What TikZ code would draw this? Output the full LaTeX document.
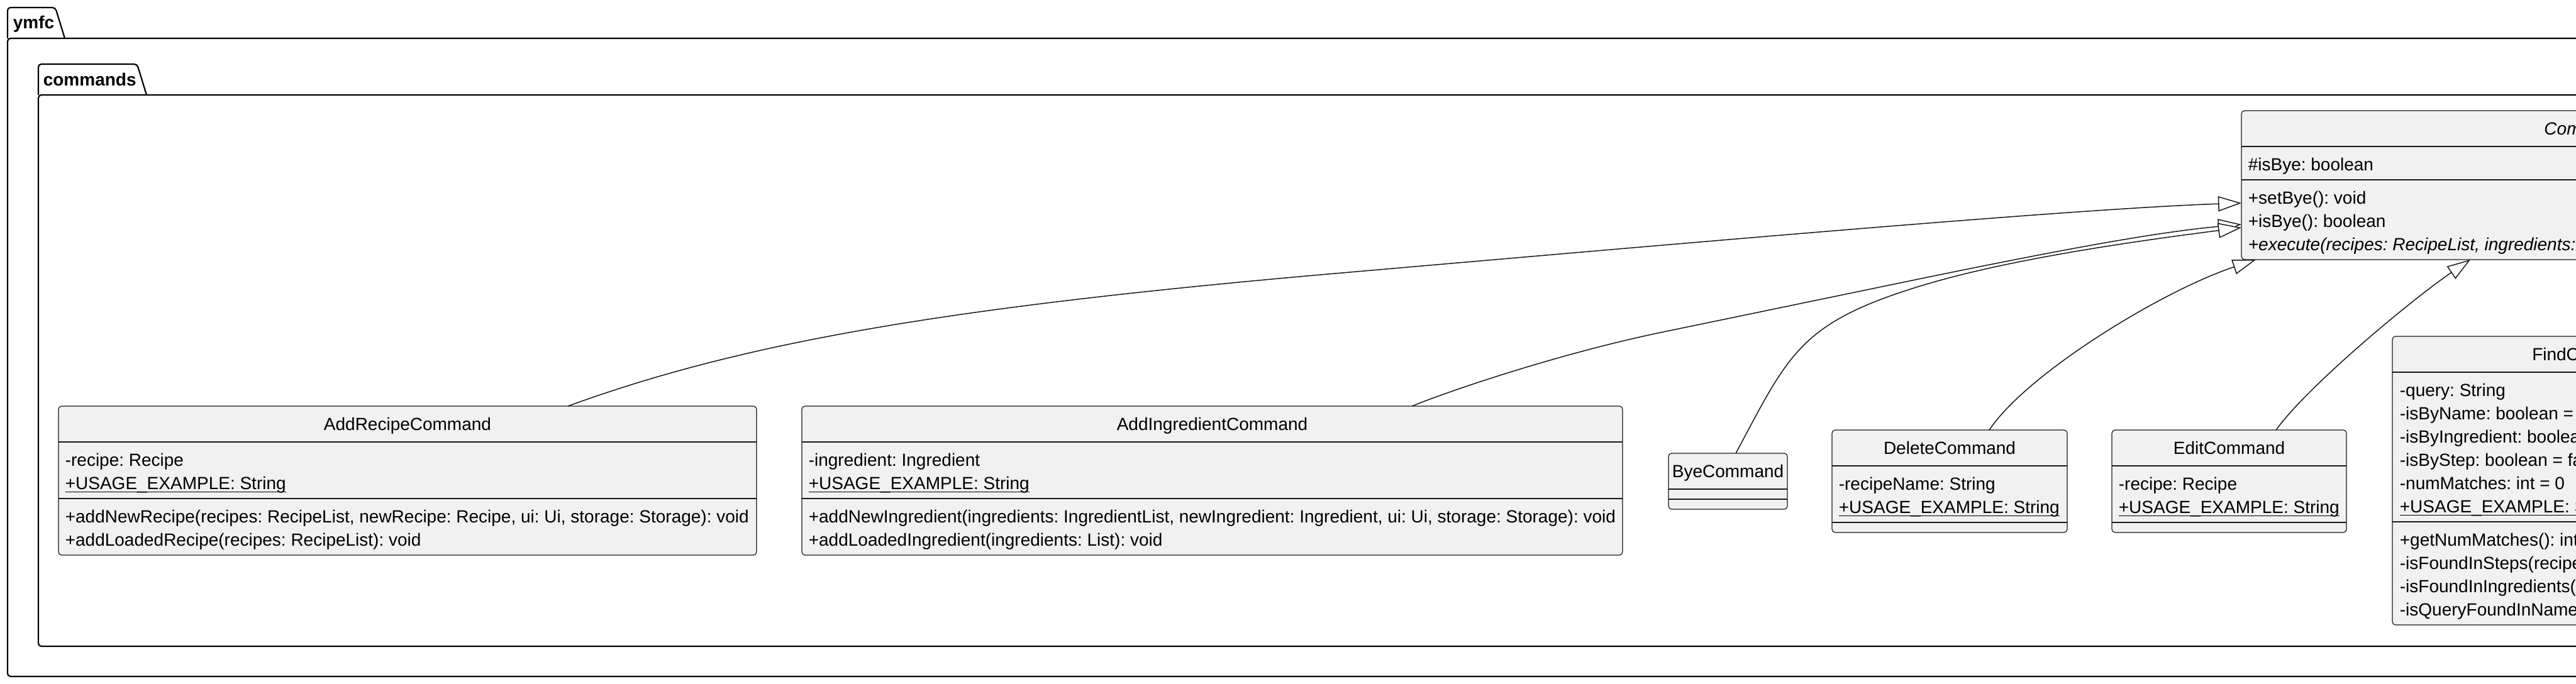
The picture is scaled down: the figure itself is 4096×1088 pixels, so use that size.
\documentclass[tikz,border=0pt]{standalone}
\usepackage{fontspec}
\setmainfont{Liberation Sans}
\usetikzlibrary{arrows.meta,calc}
\definecolor{boxc}{HTML}{F1F1F1}
\definecolor{bordc}{HTML}{181818}
\newcommand\rowfont{\fontsize{7pt}{9.25pt}\selectfont\frenchspacing}
\newcommand\ulx[1]{\setbox0=\hbox{#1}\rlap{\rule[-1.1pt]{\wd0}{0.3pt}}\box0}
\tikzset{
  cls/.style={draw=bordc, fill=boxc, line width=0.3pt, rounded corners=1.25pt,
              inner sep=0pt, outer sep=0pt, anchor=north west},
  sepl/.style={draw=bordc, line width=0.3pt},
  row/.style={anchor=base west, inner sep=0pt, font=\rowfont, text=black},
  ttl/.style={anchor=base, inner sep=0pt, font=\rowfont, text=black},
  pkgt/.style={anchor=base west, inner sep=0pt, font=\rowfont\bfseries, text=black},
  pkg/.style={draw=black, line width=0.55pt, rounded corners=1.2pt},
  inh/.style={draw=bordc, line width=0.375pt,
              -{Triangle[length=9.25pt,width=6pt,fill=white]}},
}
\begin{document}
\begin{tikzpicture}[x=0.25pt,y=-0.25pt]
\useasboundingbox (0,0) rectangle (4096,1088);
\clip (0,0) rectangle (4096,1088);

% packages
\draw[pkg] (12,61) -- (12,12) -- (88,12) -- (103,61);
\draw[pkg] (12,61) rectangle (4300,1076);
\node[pkgt] (ymfc) at (20,46) {ymfc};
\draw[pkg] (61,151) -- (61,102) -- (218,102) -- (233,151);
\draw[pkg] (61,151) rectangle (4250,1028);
\node[pkgt] (commands) at (68,137) {commands};

% Command (abstract)
\node[cls, minimum width=265.25pt, minimum height=59.25pt] (cmd) at (3564,176) {};
\draw[sepl] (3564,233) -- (4660,233);
\draw[sepl] (3564,286) -- (4660,286);
\node[ttl, font=\rowfont\itshape] (cmd-t) at (4110,214.5) {Command};
\node[row] (cmd-a1) at (3574,271.5) {\#isBye: boolean};
\node[row] (cmd-m1) at (3574,324.5) {+setBye(): void};
\node[row] (cmd-m2) at (3574,361.5) {+isBye(): boolean};
\node[row, font=\rowfont\itshape] (cmd-m3) at (3574,398.5) {+execute(recipes: RecipeList, ingredients:};

% AddRecipeCommand
\node[cls, minimum width=277.5pt, minimum height=59.25pt] (ar) at (93,646) {};
\draw[sepl] (93,703) -- (1203,703);
\draw[sepl] (93,793) -- (1203,793);
\node[ttl] (ar-t) at (648,684.5) {AddRecipeCommand};
\node[row] (ar-a1) at (103,741.5) {-recipe: Recipe};
\node[row] (ar-a2) at (103,778.5) {\ulx{+USAGE\_EXAMPLE: String}};
\node[row] (ar-m1) at (103,831.5) {+addNewRecipe(recipes: RecipeList, newRecipe: Recipe, ui: Ui, storage: Storage): void};
\node[row] (ar-m2) at (103,868.5) {+addLoadedRecipe(recipes: RecipeList): void};

% AddIngredientCommand
\node[cls, minimum width=326.25pt, minimum height=59.25pt] (ai) at (1275,646) {};
\draw[sepl] (1275,703) -- (2580,703);
\draw[sepl] (1275,793) -- (2580,793);
\node[ttl] (ai-t) at (1927.5,684.5) {AddIngredientCommand};
\node[row] (ai-a1) at (1285,741.5) {-ingredient: Ingredient};
\node[row] (ai-a2) at (1285,778.5) {\ulx{+USAGE\_EXAMPLE: String}};
\node[row] (ai-m1) at (1285,831.5) {+addNewIngredient(ingredients: IngredientList, newIngredient: Ingredient, ui: Ui, storage: Storage): void};
\node[row] (ai-m2) at (1285,868.5) {+addLoadedIngredient(ingredients: List): void};

% ByeCommand
\node[cls, minimum width=47.25pt, minimum height=22.25pt] (bye) at (2653,721) {};
\draw[sepl] (2653,778) -- (2842,778);
\draw[sepl] (2653,794) -- (2842,794);
\node[ttl] (bye-t) at (2747.5,759.5) {ByeCommand};

% DeleteCommand
\node[cls, minimum width=93.5pt, minimum height=40.75pt] (del) at (2913,684) {};
\draw[sepl] (2913,741) -- (3287,741);
\draw[sepl] (2913,831) -- (3287,831);
\node[ttl] (del-t) at (3100,722.5) {DeleteCommand};
\node[row] (del-a1) at (2923,779.5) {-recipeName: String};
\node[row] (del-a2) at (2923,816.5) {\ulx{+USAGE\_EXAMPLE: String}};

% EditCommand
\node[cls, minimum width=93.25pt, minimum height=40.75pt] (ed) at (3358,684) {};
\draw[sepl] (3358,741) -- (3731,741);
\draw[sepl] (3358,831) -- (3731,831);
\node[ttl] (ed-t) at (3544.5,722.5) {EditCommand};
\node[row] (ed-a1) at (3368,779.5) {-recipe: Recipe};
\node[row] (ed-a2) at (3368,816.5) {\ulx{+USAGE\_EXAMPLE: String}};

% FindCommand
\node[cls, minimum width=155pt, minimum height=114.75pt] (find) at (3804,535) {};
\draw[sepl] (3804,592) -- (4424,592);
\draw[sepl] (3804,830) -- (4424,830);
\node[ttl] (find-t) at (4118,573.5) {FindCommand};
\node[row] (find-a1) at (3815,630.5) {-query: String};
\node[row] (find-a2) at (3815,667.5) {-isByName: boolean =};
\node[row] (find-a3) at (3815,704.5) {-isByIngredient: boolean};
\node[row] (find-a4) at (3815,741.5) {-isByStep: boolean = false};
\node[row] (find-a5) at (3815,778.5) {-numMatches: int = 0};
\node[row] (find-a6) at (3815,815.5) {\ulx{+USAGE\_EXAMPLE: String}};
\node[row] (find-m1) at (3815,868.5) {+getNumMatches(): int};
\node[row] (find-m2) at (3815,905.5) {-isFoundInSteps(recipe};
\node[row] (find-m3) at (3815,942.5) {-isFoundInIngredients(};
\node[row] (find-m4) at (3815,979.5) {-isQueryFoundInName};

% inheritance connectors
\draw[inh] ($(ar.north west)+(810,0)$) .. controls (1180,545) and (1500,490) .. (2100,437)
   .. controls (2700,385) and (3300,332) .. ($(cmd.north west)+(0,147)$);
\draw[inh] ($(ai.north west)+(970,0)$) .. controls (2330,612) and (2500,558) .. (2640,529)
   -- (3060,442) .. controls (3250,403) and (3420,370) .. ($(cmd.north west)+(0,181)$);
\draw[inh] ($(bye.north west)+(107,0)$) .. controls (2845,563) and (2860,513) .. (3060,453)
   .. controls (3200,411) and (3400,383) .. ($(cmd.north west)+(0,186)$);
\draw[inh] ($(del.north west)+(250,0)$) .. controls (3223,594) and (3437,463) .. ($(cmd.south west)+(23,0)$);
\draw[inh] ($(ed.north west)+(261,0)$) .. controls (3669,614) and (3838,474) .. ($(cmd.south west)+(364,0)$);
\end{tikzpicture}
\end{document}
